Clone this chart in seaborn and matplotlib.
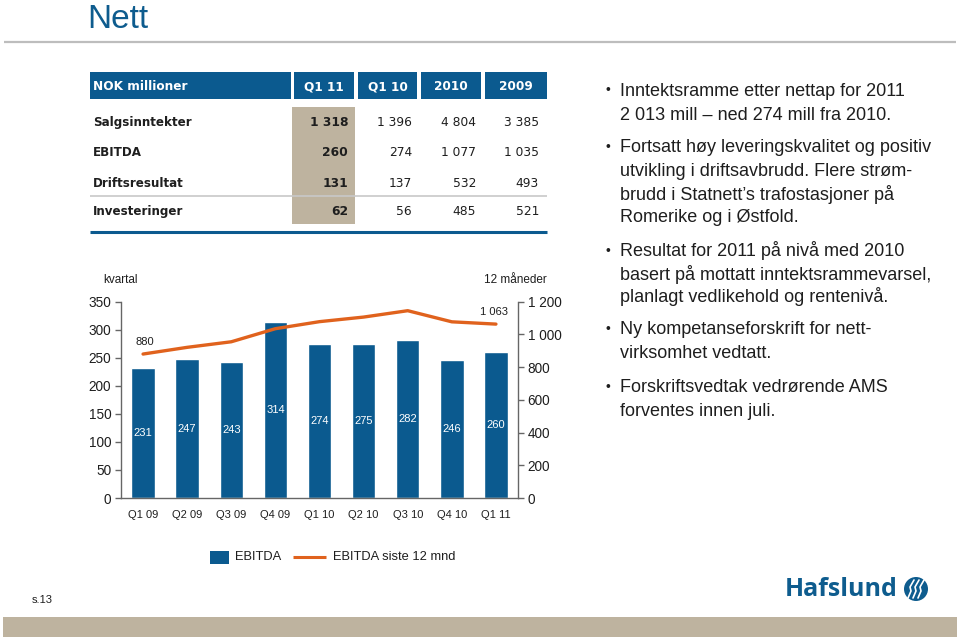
import numpy as np
import matplotlib
matplotlib.use("Agg")
import matplotlib.pyplot as plt
import seaborn as sns
from matplotlib.patches import Rectangle, Ellipse
from matplotlib.lines import Line2D
from matplotlib.ticker import FuncFormatter, MultipleLocator

# ---------------- data ----------------
quarters = ["Q1 09", "Q2 09", "Q3 09", "Q4 09", "Q1 10", "Q2 10", "Q3 10", "Q4 10", "Q1 11"]
ebitda = [231, 247, 243, 314, 274, 275, 282, 246, 260]
ebitda_12m = [880, 921, 955, 1035, 1078, 1106, 1145, 1077, 1063]

table_header = ["NOK millioner", "Q1 11", "Q1 10", "2010", "2009"]
table_rows = ["Salgsinntekter", "EBITDA", "Driftsresultat", "Investeringer"]
table_q1_11 = ["1 318", "260", "131", "62"]
table_q1_10 = ["1 396", "274", "137", "56"]
table_2010 = ["4 804", "1 077", "532", "485"]
table_2009 = ["3 385", "1 035", "493", "521"]

bullets = [
    ["Inntektsramme etter nettap for 2011", "2 013 mill \u2013 ned 274 mill fra 2010."],
    ["Fortsatt h\u00f8y leveringskvalitet og positiv", "utvikling i driftsavbrudd. Flere str\u00f8m-",
     "brudd i Statnett\u2019s trafostasjoner p\u00e5", "Romerike og i \u00d8stfold."],
    ["Resultat for 2011 p\u00e5 niv\u00e5 med 2010", "basert p\u00e5 mottatt inntektsrammevarsel,",
     "planlagt vedlikehold og renteniv\u00e5."],
    ["Ny kompetanseforskrift for nett-", "virksomhet vedtatt."],
    ["Forskriftsvedtak vedr\u00f8rende AMS", "forventes innen juli."],
]

# ---------------- style ----------------
BLUE = "#0B5A8F"
ORANGE = "#E0621D"
TAN = "#BEB39F"
TXT = "#1E1E1E"

sns.set_theme(style="white")
plt.rcParams["font.family"] = ["Liberation Sans", "DejaVu Sans"]

W, H = 960, 640
fig = plt.figure(figsize=(9.6, 6.4), dpi=100)
fig.patch.set_facecolor("white")


def fx(x):
    return x / W


def fy(y):
    return 1 - y / H


def rect(x0, y0, x1, y1, color):
    fig.add_artist(Rectangle((fx(x0), fy(y1)), fx(x1) - fx(x0), fy(y0) - fy(y1),
                             transform=fig.transFigure, facecolor=color, edgecolor="none"))


def hline(x0, x1, y, color, lw):
    fig.add_artist(Line2D([fx(x0), fx(x1)], [fy(y), fy(y)], transform=fig.transFigure,
                          color=color, linewidth=lw, solid_capstyle="butt"))


# ---------------- title ----------------
fig.text(fx(87), fy(28), "Nett", fontsize=24, color="#0E5C8E", va="baseline", ha="left")
hline(4, 956, 42, "#BDBDBD", 1.6)

# ---------------- table ----------------
TFONT = ["DejaVu Sans"]
cells = [(90, 291), (294, 354), (358, 417), (421, 481), (485, 547)]
for i, (x0, x1) in enumerate(cells):
    rect(x0, 72, x1, 99, BLUE)
    if i == 0:
        fig.text(fx(x0 + 3), fy(90), table_header[i], color="white", fontsize=8.7,
                 fontweight="bold", family=TFONT, va="baseline", ha="left")
    else:
        fig.text(fx((x0 + x1) / 2), fy(90), table_header[i], color="white", fontsize=8.7,
                 fontweight="bold", family=TFONT, va="baseline", ha="center")

rect(292, 107, 355, 224, TAN)
hline(90, 547, 196, "#C8C8C8", 1.2)
hline(90, 547, 232, BLUE, 2.2)

row_base = [126, 156, 187, 215]
cols = [table_q1_11, table_q1_10, table_2010, table_2009]
col_right = [348, 412, 476, 539]
for r, label in enumerate(table_rows):
    fig.text(fx(93), fy(row_base[r]), label, fontsize=8.6, fontweight="bold", family=TFONT,
             color=TXT, va="baseline", ha="left")
    for c, vals in enumerate(cols):
        fig.text(fx(col_right[c]), fy(row_base[r]), vals[r], fontsize=8.8,
                 fontweight="bold" if c == 0 else "normal", family=TFONT,
                 color=TXT, va="baseline", ha="right")

# ---------------- chart ----------------
ax_l, ax_r, ax_t, ax_b = 121, 518, 301.7, 498
ax = fig.add_axes([fx(ax_l), fy(ax_b), fx(ax_r) - fx(ax_l), fy(ax_t) - fy(ax_b)])
ax.set_facecolor("none")
sns.barplot(x=quarters, y=ebitda, color=BLUE, saturation=1, width=0.53, ax=ax)
ax.set_xlim(-0.5, 8.5)
ax.set_ylim(0, 350)
ax.yaxis.set_major_locator(MultipleLocator(50))
ax.set_xlabel("")
ax.set_ylabel("")
for s in ["top", "right"]:
    ax.spines[s].set_visible(False)
for s in ["left", "bottom"]:
    ax.spines[s].set_color("#666666")
    ax.spines[s].set_linewidth(1.0)
ax.tick_params(axis="y", direction="out", length=4, width=1, color="#666666",
               labelsize=9.8, pad=3, labelcolor=TXT, left=True)
ax.tick_params(axis="x", length=0, labelsize=8, pad=9, labelcolor=TXT)

for i, v in enumerate(ebitda):
    ax.text(i, v / 2, str(v), color="white", fontsize=8, ha="center", va="center")

ax2 = ax.twinx()
sns.lineplot(x=np.arange(len(quarters)), y=ebitda_12m, color=ORANGE, linewidth=2.4, ax=ax2)
ax2.set_ylim(0, 1200)
ax2.set_xlim(-0.5, 8.5)
ax2.yaxis.set_major_locator(MultipleLocator(200))
ax2.yaxis.set_major_formatter(FuncFormatter(lambda v, p: f"{int(v):,}".replace(",", " ")))
for s in ["top", "left", "bottom"]:
    ax2.spines[s].set_visible(False)
ax2.spines["right"].set_color("#666666")
ax2.spines["right"].set_linewidth(1.0)
ax2.tick_params(axis="y", direction="out", length=4, width=1, color="#666666",
                labelsize=9.8, pad=3, labelcolor=TXT, right=True)
ax2.set_ylabel("")

ax2.annotate(f"{ebitda_12m[0]:,}".replace(",", " "), (0, ebitda_12m[0]), xytext=(1.5, 9),
             textcoords="offset points", ha="center", va="center", fontsize=8, color=TXT)
ax2.annotate(f"{ebitda_12m[-1]:,}".replace(",", " "), (8, ebitda_12m[-1]), xytext=(-1.5, 9),
             textcoords="offset points", ha="center", va="center", fontsize=8, color=TXT)

fig.text(fx(121), fy(280), "kvartal", fontsize=8.5, color=TXT, ha="center", va="center")
fig.text(fx(515), fy(280), "12 m\u00e5neder", fontsize=8.5, color=TXT, ha="center", va="center")

# legend
rect(210, 551, 229, 564, BLUE)
fig.text(fx(235), fy(557.5), "EBITDA", fontsize=9.3, color=TXT, va="center", ha="left")
fig.add_artist(Line2D([fx(293), fx(326)], [fy(557), fy(557)], transform=fig.transFigure,
                      color=ORANGE, linewidth=2.2, solid_capstyle="butt"))
fig.text(fx(333), fy(557.5), "EBITDA siste 12 mnd", fontsize=9.3, color=TXT, va="center", ha="left")

# ---------------- bullets ----------------
line_y = [[89, 113], [146, 170, 193, 216], [250, 273, 296], [328, 351], [386, 409]]
for para, ys in zip(bullets, line_y):
    fig.text(fx(606), fy(ys[0] + 5), "\u2022", fontsize=10, color=TXT, va="baseline", ha="left")
    for line, y in zip(para, ys):
        fig.text(fx(620), fy(y + 6.5), line, fontsize=13, color=TXT, va="baseline", ha="left")

# ---------------- footer ----------------
fig.text(fx(42), fy(600), "s.13", fontsize=8, color=TXT, ha="center", va="center")
rect(3, 617, 957, 637, TAN)
fig.text(fx(785), fy(590), "Hafslund", fontsize=18, fontweight="bold", color="#0E5C8E",
         family=["Open Sans", "DejaVu Sans"], ha="left", va="center")
fig.add_artist(Ellipse((fx(916), fy(589)), 24 / W, 24 / H, transform=fig.transFigure,
                       facecolor="#0E5C8E", edgecolor="none"))
for dx in (-5, 0, 5):
    xs = np.array([fx(916 + dx - 3), fx(916 + dx), fx(916 + dx - 1), fx(916 + dx + 3)])
    ys = np.array([fy(598), fy(591), fy(587), fy(580)])
    fig.add_artist(Line2D(xs, ys, transform=fig.transFigure, color="white", linewidth=1.2))

fig.savefig("out.png", dpi=100, facecolor="white")
